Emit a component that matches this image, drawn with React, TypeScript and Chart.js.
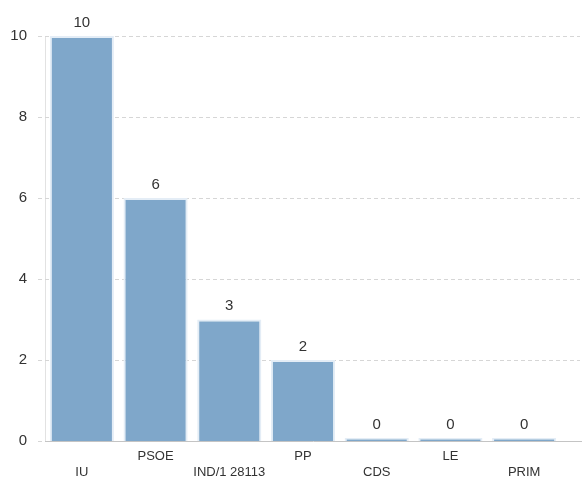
import React, { useEffect, useRef } from "react";
import { Chart, registerables } from "chart.js";

Chart.register(...registerables);

const categories = ["IU", "PSOE", "IND/1 28113", "PP", "CDS", "LE", "PRIM"];
const seats = [10, 6, 3, 2, 0, 0, 0];
const yTicks = [0, 2, 4, 6, 8, 10];

const FONT = "'Liberation Sans', Arial, sans-serif";

const gridAndAxes = {
  id: "gridAndAxes",
  beforeDatasetsDraw(chart: any) {
    const ctx = chart.ctx;
    const area = chart.chartArea;
    const y = chart.scales.y;
    ctx.save();
    // faint vertical axis line
    ctx.strokeStyle = "#e2e2e2";
    ctx.lineWidth = 1;
    ctx.beginPath();
    ctx.moveTo(Math.round(area.left) + 0.5, area.top);
    ctx.lineTo(Math.round(area.left) + 0.5, area.bottom);
    ctx.stroke();
    // dashed horizontal grid lines
    ctx.strokeStyle = "#d6d6d6";
    ctx.setLineDash([4, 3]);
    yTicks.forEach((v) => {
      if (v === 0) return;
      const py = Math.round(y.getPixelForValue(v)) + 0.5;
      ctx.beginPath();
      ctx.moveTo(area.left - 7, py);
      ctx.lineTo(chart.width - 2, py);
      ctx.stroke();
    });
    ctx.setLineDash([4, 3]);
    const p0 = Math.round(y.getPixelForValue(0)) + 0.5;
    ctx.beginPath();
    ctx.moveTo(area.left - 7, p0);
    ctx.lineTo(area.left, p0);
    ctx.stroke();
    ctx.setLineDash([]);
    // x axis line
    ctx.strokeStyle = "#c4c4c4";
    ctx.beginPath();
    ctx.moveTo(area.left, p0);
    ctx.lineTo(chart.width, p0);
    ctx.stroke();
    ctx.restore();
  },
  afterDatasetsDraw(chart: any) {
    const ctx = chart.ctx;
    const meta = chart.getDatasetMeta(0);
    ctx.save();
    ctx.font = `15px ${FONT}`;
    ctx.fillStyle = "#333333";
    ctx.textAlign = "center";
    ctx.textBaseline = "bottom";
    meta.data.forEach((bar: any, i: number) => {
      ctx.fillText(String(seats[i]), bar.x, bar.y - 6);
    });
    ctx.restore();
  },
};

export default function App() {
  const ref = useRef<HTMLCanvasElement>(null);
  useEffect(() => {
    document.body.style.margin = "0";
    const chart = new Chart(ref.current!, {
      type: "bar",
      data: {
        labels: categories,
        datasets: [
          {
            data: seats,
            backgroundColor: "#7fa7ca",
            borderColor: "#e4edf6",
            borderWidth: 2,
            minBarLength: 3,
            categoryPercentage: 1,
            barPercentage: 0.87,
          },
        ],
      },
      options: {
        animation: false,
        responsive: false,
        maintainAspectRatio: false,
        layout: { padding: { top: 36, right: 21, left: 0, bottom: 0 } },
        plugins: { legend: { display: false }, tooltip: { enabled: false } },
        scales: {
          x: {
            grid: { display: false, drawTicks: false },
            border: { display: false },
            afterFit: (axis: any) => {
              axis.height = 36;
            },
            ticks: {
              color: "#333333",
              font: { family: FONT, size: 13 },
              maxRotation: 0,
              autoSkip: false,
              padding: 8,
              callback: (_v: any, i: number) =>
                i % 2 === 0 ? ["", categories[i]] : [categories[i], ""],
            },
          },
          y: {
            min: 0,
            max: 10,
            afterBuildTicks: (axis: any) => {
              axis.ticks = yTicks.map((v) => ({ value: v }));
            },
            afterFit: (axis: any) => {
              axis.width = 45;
            },
            grid: { display: false, drawTicks: false },
            border: { display: false },
            ticks: {
              color: "#333333",
              font: { family: FONT, size: 15 },
              padding: 18,
            },
          },
        },
      },
      plugins: [gridAndAxes],
    });
    return () => chart.destroy();
  }, []);
  return (
    <div style={{ width: 582, height: 477 }}>
      <canvas ref={ref} width={582} height={477} style={{ width: 582, height: 477 }} />
    </div>
  );
}
